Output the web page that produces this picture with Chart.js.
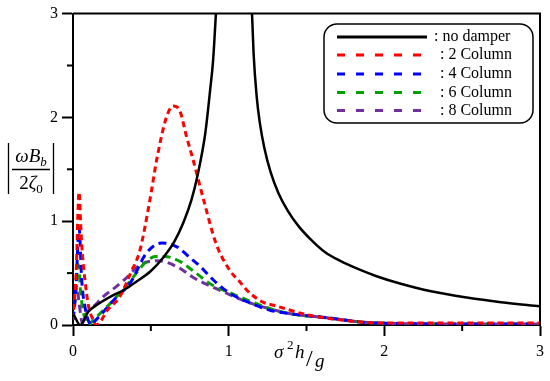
<!DOCTYPE html>
<html>
<head>
<meta charset="utf-8">
<script src="https://cdn.jsdelivr.net/npm/chart.js@4.4.1/dist/chart.umd.min.js"></script>
<style>
  html, body { margin: 0; padding: 0; background: #fff; }
</style>
</head>
<body>
<canvas id="chart" width="550" height="381"></canvas>
<script>
// values, x = sigma^2 h / g
const noDamperX = [0.005, 0.045, 0.1, 0.16, 0.25, 0.33, 0.4, 0.5, 0.58, 0.65, 0.71, 0.76, 0.8, 0.85, 0.88, 0.9, 0.918, 0.93,
    1.03,
    1.14, 1.16, 1.18, 1.2, 1.23, 1.27, 1.32, 1.38, 1.45, 1.53, 1.62, 1.72, 1.83, 1.95, 2.1, 2.3, 2.53, 2.75, 3.0];
const noDamperY = [0.1, 0.0, 0.13, 0.2, 0.28, 0.34, 0.41, 0.52, 0.65, 0.8, 0.99, 1.2, 1.44, 1.85, 2.25, 2.55, 3.0, 3.35,
    null,
    3.4, 2.62, 2.2, 1.95, 1.7, 1.47, 1.27, 1.1, 0.95, 0.82, 0.7, 0.615, 0.54, 0.47, 0.4, 0.325, 0.265, 0.22, 0.18];

const col2X = [0.0, 0.02, 0.039, 0.051, 0.06, 0.077, 0.1, 0.13, 0.15, 0.17, 0.22, 0.3, 0.37, 0.43, 0.49, 0.54, 0.6, 0.644,
    0.687, 0.73, 0.77, 0.84, 0.92, 1.01, 1.07, 1.12, 1.22, 1.29, 1.5, 1.71, 2.0, 2.5, 3.0];
const col2Y = [0.05, 0.5, 1.28, 0.91, 0.69, 0.43, 0.18, 0.05, 0.0, 0.02, 0.14, 0.27, 0.5, 0.72, 1.17, 1.61, 2.0, 2.11,
    2.06, 1.81, 1.6, 1.2, 0.78, 0.52, 0.42, 0.33, 0.22, 0.19, 0.1, 0.05, 0.02, 0.02, 0.02];

const col4X = [0.0, 0.02, 0.039, 0.056, 0.08, 0.12, 0.13, 0.18, 0.28, 0.37, 0.47, 0.57, 0.67, 0.75, 0.82, 0.89, 0.965,
    1.05, 1.14, 1.27, 1.39, 1.63, 1.93, 2.5, 3.0];
const col4Y = [0.05, 0.4, 0.94, 0.43, 0.15, 0.0, 0.02, 0.1, 0.27, 0.41, 0.69, 0.79, 0.75, 0.65, 0.56, 0.45, 0.35,
    0.27, 0.21, 0.14, 0.11, 0.07, 0.02, 0.01, 0.01];

const col6X = [0.0, 0.015, 0.034, 0.05, 0.07, 0.1, 0.12, 0.18, 0.26, 0.37, 0.47, 0.53, 0.59, 0.69, 0.79, 0.9, 1.01,
    1.12, 1.24, 1.39, 1.63, 1.93, 2.5, 3.0];
const col6Y = [0.05, 0.3, 0.58, 0.3, 0.1, 0.0, 0.03, 0.12, 0.24, 0.43, 0.61, 0.66, 0.66, 0.61, 0.5, 0.38, 0.31,
    0.24, 0.17, 0.11, 0.07, 0.02, 0.01, 0.01];

const col8X = [0.0, 0.012, 0.024, 0.04, 0.06, 0.09, 0.14, 0.2, 0.27, 0.34, 0.43, 0.54, 0.67, 0.77, 0.89, 1.01, 1.14,
    1.28, 1.39, 1.63, 1.93, 2.5, 3.0];
const col8Y = [0.05, 0.2, 0.37, 0.2, 0.02, 0.12, 0.19, 0.28, 0.36, 0.45, 0.58, 0.62, 0.56, 0.46, 0.37, 0.29, 0.21,
    0.15, 0.11, 0.07, 0.02, 0.01, 0.01];

const seriesLabels = [": no damper", ": 2 Column", ": 4 Column", ": 6 Column", ": 8 Column"];
const xTickLabels = [0, 1, 2, 3];
const yTickLabels = [0, 1, 2, 3];

const serif = '"Liberation Serif", "Times New Roman", serif';

// pair x and y lists into points
function toPoints(xs, ys) {
    return xs.map((x, i) => ({ x: x, y: ys[i] }));
}

function lineSet(label, xs, ys, color, width, dash) {
    return {
        label: label,
        data: toPoints(xs, ys),
        borderColor: color,
        backgroundColor: color,
        borderWidth: width,
        borderDash: dash,
        pointRadius: 0,
        cubicInterpolationMode: "monotone",
        spanGaps: false,
        clip: 0
    };
}

// minor ticks, top/right frame, axis titles and legend box
const decorPlugin = {
    id: "decor",
    afterDatasetsDraw(chart) {
        const ctx = chart.ctx;
        const a = chart.chartArea;
        const xs = chart.scales.x;
        const ys = chart.scales.y;
        ctx.save();
        ctx.strokeStyle = "#000";
        ctx.lineWidth = 2;
        ctx.beginPath();
        ctx.moveTo(a.left, a.top);
        ctx.lineTo(a.right, a.top);
        ctx.lineTo(a.right, a.bottom);
        ctx.stroke();

        // minor ticks at the halves
        for (const v of [0.5, 1.5, 2.5]) {
            const px = xs.getPixelForValue(v);
            ctx.beginPath();
            ctx.moveTo(px, a.bottom);
            ctx.lineTo(px, a.bottom + 6);
            ctx.stroke();
            const py = ys.getPixelForValue(v);
            ctx.beginPath();
            ctx.moveTo(a.left, py);
            ctx.lineTo(a.left - 6, py);
            ctx.stroke();
        }
        ctx.restore();
    },
    afterDraw(chart) {
        const ctx = chart.ctx;
        ctx.save();
        ctx.fillStyle = "#000";
        ctx.strokeStyle = "#000";
        ctx.textBaseline = "alphabetic";
        ctx.textAlign = "left";

        // y title |omega B_b / 2 zeta_0|
        const big = "italic 19px " + serif;
        const small = "italic 13px " + serif;
        const cx = 31;
        ctx.font = big;
        const wNum = ctx.measureText("ωB").width;
        ctx.font = small;
        const wNumSub = ctx.measureText("b").width;
        let sx = cx - (wNum + wNumSub) / 2;
        ctx.font = big;
        ctx.fillText("ωB", sx, 162);
        ctx.font = small;
        ctx.fillText("b", sx + wNum, 166);

        ctx.font = "19px " + serif;
        const w2 = ctx.measureText("2").width;
        ctx.font = big;
        const wz = ctx.measureText("ζ").width;
        ctx.font = "13px " + serif;
        const w0 = ctx.measureText("0").width;
        sx = cx - (w2 + wz + w0) / 2;
        ctx.font = "19px " + serif;
        ctx.fillText("2", sx, 189);
        ctx.font = big;
        ctx.fillText("ζ", sx + w2, 189);
        ctx.font = "13px " + serif;
        ctx.fillText("0", sx + w2 + wz, 193);

        ctx.lineWidth = 1.3;
        ctx.beginPath();
        ctx.moveTo(12, 169.5);
        ctx.lineTo(50, 169.5);
        ctx.moveTo(8.5, 143);
        ctx.lineTo(8.5, 194);
        ctx.moveTo(53.5, 143);
        ctx.lineTo(53.5, 194);
        ctx.stroke();

        // x title sigma^2 h / g
        ctx.font = big;
        ctx.fillText("σ", 274, 358);
        ctx.font = "13px " + serif;
        ctx.fillText("2", 287, 349);
        ctx.font = big;
        ctx.fillText("h", 295, 358);
        ctx.font = "24px " + serif;
        ctx.fillText("/", 306, 366);
        ctx.font = big;
        ctx.fillText("g", 315, 367);

        // legend box
        const bx = 324, by = 24, bw = 209, bh = 99, r = 13;
        ctx.lineWidth = 1.5;
        ctx.beginPath();
        ctx.roundRect(bx, by, bw, bh, r);
        ctx.fillStyle = "#fff";
        ctx.fill();
        ctx.stroke();

        const rowY = [37, 55, 74, 92.5, 110.5];
        chart.data.datasets.forEach((ds, i) => {
            ctx.strokeStyle = ds.borderColor;
            ctx.lineWidth = 3;
            ctx.setLineDash(i === 0 ? [] : [8, 11]);
            ctx.beginPath();
            ctx.moveTo(337, rowY[i]);
            ctx.lineTo(427, rowY[i]);
            ctx.stroke();
            ctx.setLineDash([]);
            ctx.fillStyle = "#000";
            ctx.font = "16px " + serif;
            ctx.textBaseline = "middle";
            ctx.fillText(ds.label, i === 0 ? 434 : 440, rowY[i]);
        });
        ctx.restore();
    }
};

const ctx = document.getElementById("chart").getContext("2d");

new Chart(ctx, {
    type: "line",
    data: {
        datasets: [
            lineSet(seriesLabels[0], noDamperX, noDamperY, "#000000", 2.5, []),
            lineSet(seriesLabels[1], col2X, col2Y, "#ff0000", 3, [6, 4]),
            lineSet(seriesLabels[2], col4X, col4Y, "#0000ff", 3, [8, 5]),
            lineSet(seriesLabels[3], col6X, col6Y, "#00a000", 3, [8, 5]),
            lineSet(seriesLabels[4], col8X, col8Y, "#7030a0", 3, [8, 5])
        ]
    },
    options: {
        responsive: false,
        animation: false,
        layout: { padding: { top: 12, right: 10, left: 0, bottom: 0 } },
        plugins: {
            legend: { display: false },
            tooltip: { enabled: false }
        },
        scales: {
            x: {
                type: "linear",
                min: 0,
                max: 3,
                afterFit: (s) => { s.height = 56; },
                ticks: {
                    stepSize: 0.5,
                    autoSkip: false,
                    maxRotation: 0,
                    padding: 6,
                    color: "#000",
                    font: { family: serif, size: 16 },
                    callback: (v) => xTickLabels.includes(v) ? String(v) : ""
                },
                grid: {
                    drawOnChartArea: false,
                    tickLength: 11,
                    tickWidth: 2,
                    tickColor: (c) => (c.tick && c.tick.value % 1 !== 0) ? "rgba(0,0,0,0)" : "#000"
                },
                border: { color: "#000", width: 2 }
            },
            y: {
                min: 0,
                max: 3,
                afterFit: (s) => { s.width = 73; },
                ticks: {
                    stepSize: 0.5,
                    autoSkip: false,
                    padding: 4,
                    color: "#000",
                    font: { family: serif, size: 16 },
                    callback: (v) => yTickLabels.includes(v) ? String(v) : ""
                },
                grid: {
                    drawOnChartArea: false,
                    tickLength: 11,
                    tickWidth: 2,
                    tickColor: (c) => (c.tick && c.tick.value % 1 !== 0) ? "rgba(0,0,0,0)" : "#000"
                },
                border: { color: "#000", width: 2 }
            }
        }
    },
    plugins: [decorPlugin]
});
</script>
</body>
</html>
